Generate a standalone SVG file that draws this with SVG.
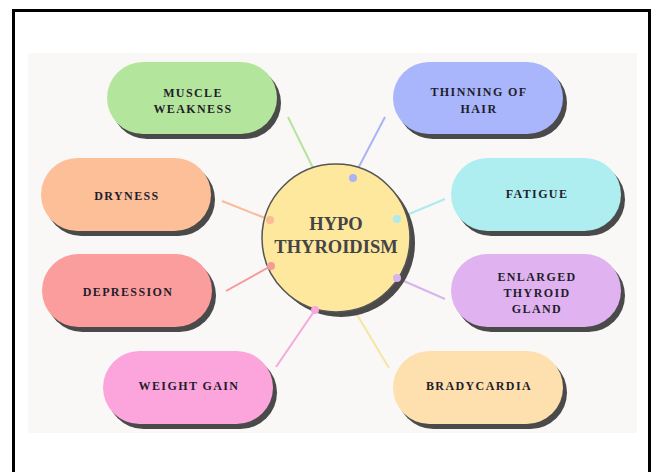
<svg xmlns="http://www.w3.org/2000/svg" width="652" height="472" viewBox="0 0 652 472">
<defs>
<style>
.sh{fill:#4a4a4a}
.pt{font-family:"Liberation Serif",serif;font-weight:bold;font-size:12px;letter-spacing:1.4px;fill:#1f1d2b;text-anchor:middle}
.ct{font-family:"Liberation Serif",serif;font-weight:bold;font-size:18.5px;fill:#444;text-anchor:middle}
.cn{stroke-width:2;fill:none}
</style>
</defs>
<rect width="652" height="472" fill="#fff"/>
<path d="M13.5 480 V10.5 H649.5 V480" fill="none" stroke="#000" stroke-width="3"/>
<rect x="28" y="53" width="609" height="380" fill="#f9f8f6"/>
<g id="connectors">
<line class="cn" stroke="#b4e59d" x1="288" y1="117" x2="314" y2="170"/>
<line class="cn" stroke="#aab4f5" x1="385" y1="117" x2="353" y2="178"/>
<line class="cn" stroke="#f9bb98" x1="222" y1="201" x2="270" y2="220"/>
<line class="cn" stroke="#f59a9a" x1="226" y1="291" x2="271" y2="266"/>
<line class="cn" stroke="#aeeaee" x1="445" y1="199" x2="397" y2="219"/>
<line class="cn" stroke="#d8b4ee" x1="445" y1="299" x2="397" y2="278"/>
<line class="cn" stroke="#f5a8dc" x1="276" y1="367" x2="315" y2="310"/>
<line class="cn" stroke="#f5e6a0" x1="389" y1="368" x2="356" y2="313"/>
</g>
<g id="center">
<circle cx="341" cy="243" r="74" class="sh"/>
<circle cx="336" cy="238" r="74" fill="#fde89e" stroke="#555" stroke-width="1.5"/>
<text class="ct" x="336" y="230">HYPO</text>
<text class="ct" x="336" y="253">THYROIDISM</text>
<circle cx="353" cy="178" r="4" fill="#aab4f5"/>
<circle cx="270" cy="220" r="4" fill="#f9bb98"/>
<circle cx="271" cy="266" r="4" fill="#f59a9a"/>
<circle cx="397" cy="219" r="4" fill="#aeeaee"/>
<circle cx="397" cy="278" r="4" fill="#d8b4ee"/>
<circle cx="315" cy="310" r="4" fill="#f5a8dc"/>
</g>
<g id="muscle">
<rect class="sh" x="111" y="67" width="170" height="72" rx="36"/>
<rect x="107" y="62" width="170" height="72" rx="36" fill="#b4e59d"/>
<text class="pt" x="193" y="97">MUSCLE</text>
<text class="pt" x="193" y="113">WEAKNESS</text>
</g>
<g id="thinning">
<rect class="sh" x="397" y="67" width="170" height="72" rx="36"/>
<rect x="393" y="62" width="170" height="72" rx="36" fill="#a9b6fb"/>
<text class="pt" x="479" y="96">THINNING OF</text>
<text class="pt" x="479" y="113">HAIR</text>
</g>
<g id="dryness">
<rect class="sh" x="45" y="163" width="170" height="73" rx="36.5"/>
<rect x="41" y="158" width="170" height="73" rx="36.5" fill="#fdbf98"/>
<text class="pt" x="127" y="200">DRYNESS</text>
</g>
<g id="fatigue">
<rect class="sh" x="455" y="163" width="170" height="73" rx="36.5"/>
<rect x="451" y="158" width="170" height="73" rx="36.5" fill="#aeeef0"/>
<text class="pt" x="537" y="198">FATIGUE</text>
</g>
<g id="depression">
<rect class="sh" x="46" y="259" width="170" height="73" rx="36.5"/>
<rect x="42" y="254" width="170" height="73" rx="36.5" fill="#fc9d9d"/>
<text class="pt" x="128" y="296">DEPRESSION</text>
</g>
<g id="enlarged">
<rect class="sh" x="455" y="259" width="170" height="73" rx="36.5"/>
<rect x="451" y="254" width="170" height="73" rx="36.5" fill="#e0b3f0"/>
<text class="pt" x="537" y="281">ENLARGED</text>
<text class="pt" x="537" y="297">THYROID</text>
<text class="pt" x="537" y="313">GLAND</text>
</g>
<g id="weight">
<rect class="sh" x="107" y="356" width="170" height="73" rx="36.5"/>
<rect x="103" y="351" width="170" height="73" rx="36.5" fill="#fca5dc"/>
<text class="pt" x="189" y="390">WEIGHT GAIN</text>
</g>
<g id="bradycardia">
<rect class="sh" x="397" y="356" width="170" height="73" rx="36.5"/>
<rect x="393" y="351" width="170" height="73" rx="36.5" fill="#fde0ae"/>
<text class="pt" x="479" y="390">BRADYCARDIA</text>
</g>
</svg>
